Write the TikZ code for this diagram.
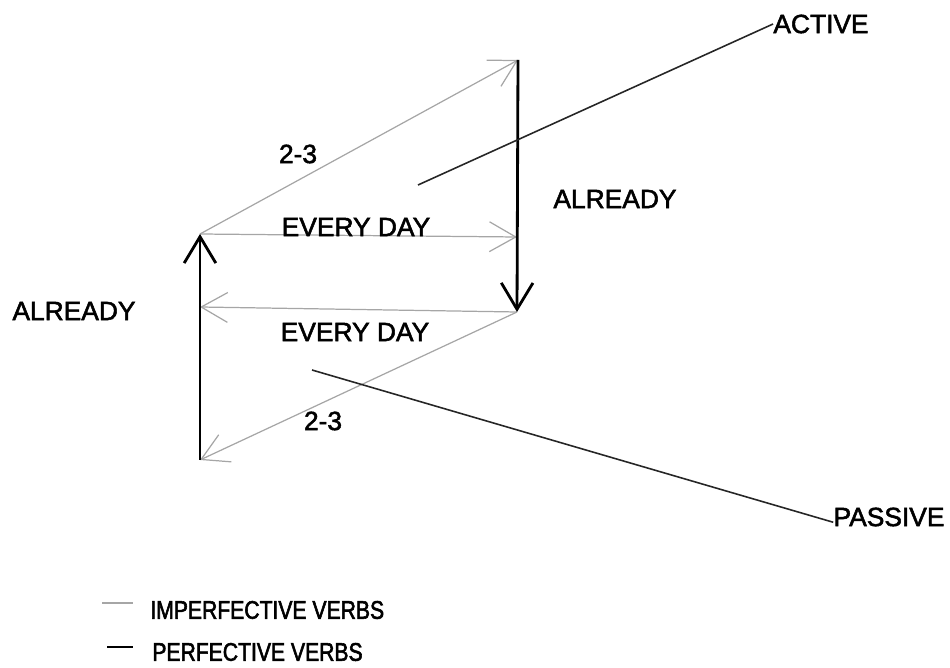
\documentclass[tikz,border=0pt]{standalone}
\usepackage{fontspec}
\setmainfont{Liberation Sans}
\newfontfamily\labelfont[FakeBold=2]{Liberation Sans}
\newfontfamily\legendfont[FakeBold=2.2, FakeStretch=0.83]{Liberation Sans}
\usetikzlibrary{arrows.meta}

\begin{document}
\begin{tikzpicture}[x=0.02cm, y=-0.02cm,
    imperf/.style={draw=gray!70, line width=0.7pt},
    perf/.style={draw=black, line width=1.6pt},
    voice/.style={draw=black!85, line width=0.9pt},
    lightarrow/.style={-{Straight Barb[length=15pt, width=17pt]}},
    heavyarrow/.style={-{Straight Barb[length=15pt, width=18pt]}},
    lbl/.style={font=\labelfont\fontsize{15}{18}\selectfont, inner sep=0pt},
    legendlbl/.style={font=\legendfont\fontsize{14.5}{17}\selectfont, inner sep=0pt, anchor=west}]

    \useasboundingbox (0,0) rectangle (950,668);

    % ===== Corners of the scheme =====
    \coordinate (lt) at (200,234);
    \coordinate (lb) at (200,460);
    \coordinate (lm) at (200,307);
    \coordinate (rt) at (518,60);
    \coordinate (rm) at (517,237);
    \coordinate (rb) at (517,312);

    % imperfective verbs (light arrows)
    \draw[imperf, lightarrow] (lt) -- (rt);
    \draw[imperf, lightarrow] (lt) -- (rm);
    \draw[imperf, lightarrow] (rb) -- (lm);
    \draw[imperf, lightarrow] (rb) -- (lb);

    % perfective verbs (heavy arrows)
    \draw[perf, heavyarrow] (rt) -- (rb);
    \draw[perf, heavyarrow] (lb) -- (lt);

    % ===== Voice lines =====
    \coordinate (actstart) at (418,185);
    \coordinate (passtart) at (312,370);
    \node[lbl] (active) at (821,24) {ACTIVE};
    \node[lbl] (passive) at (889,517) {PASSIVE};
    \draw[voice] (actstart) -- (active.west);
    \draw[voice] (passtart) -- ([yshift=-3pt]passive.west);

    % ===== Labels =====
    \node[lbl] (upperpair) at (298,154) {2-3};
    \node[lbl] (lowerpair) at (323,421) {2-3};
    \node[lbl] (upperday) at (356,227) {EVERY DAY};
    \node[lbl] (lowerday) at (355,332) {EVERY DAY};
    \node[lbl] (leftready) at (74,311) {ALREADY};
    \node[lbl] (rightready) at (615,199) {ALREADY};

    % ===== Legend =====
    \draw[imperf] (102,603) -- (133,603);
    \node[legendlbl] (implbl) at (150,610) {IMPERFECTIVE VERBS};
    \draw[perf, line width=1.2pt] (107,647) -- (133,647);
    \node[legendlbl] (perflbl) at (152,652) {PERFECTIVE VERBS};

\end{tikzpicture}
\end{document}
